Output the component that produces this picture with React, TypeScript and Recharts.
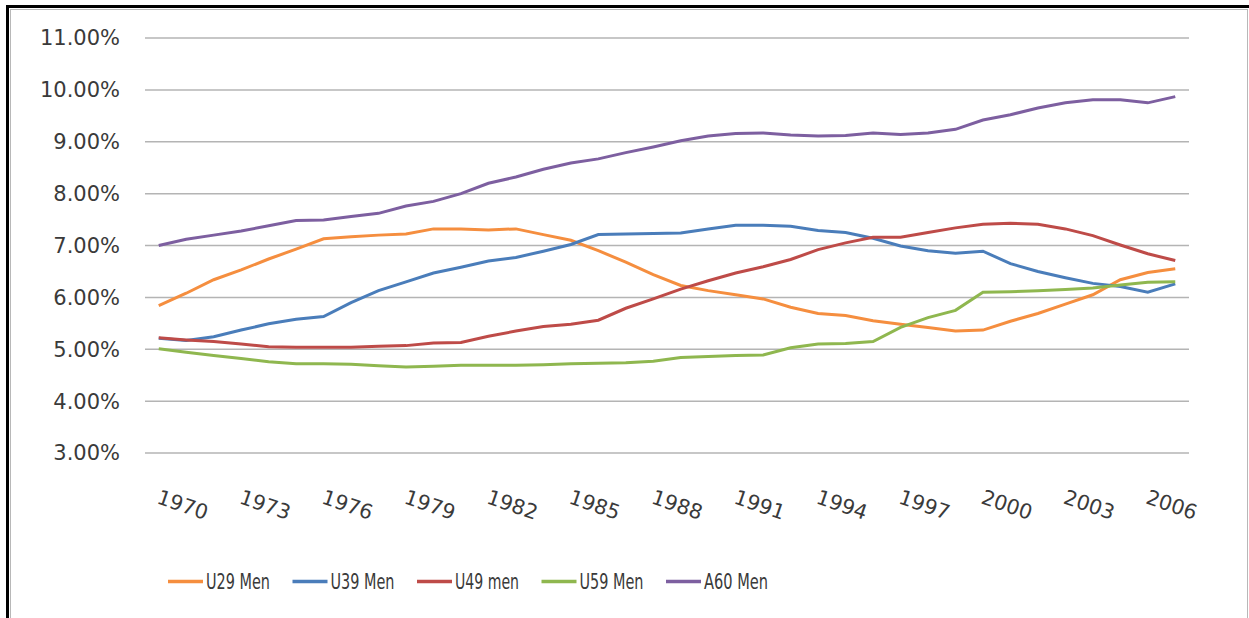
import React from 'react';
import { LineChart, Line, XAxis, YAxis, CartesianGrid } from 'recharts';

// Share of men by age group, 1970 - 2007 (percent)
const years = [
  1970, 1971, 1972, 1973, 1974, 1975, 1976, 1977, 1978, 1979,
  1980, 1981, 1982, 1983, 1984, 1985, 1986, 1987, 1988, 1989,
  1990, 1991, 1992, 1993, 1994, 1995, 1996, 1997, 1998, 1999,
  2000, 2001, 2002, 2003, 2004, 2005, 2006, 2007,
];

const u29Men = [
  5.84, 6.08, 6.34, 6.53, 6.74, 6.93, 7.13, 7.17, 7.2, 7.22,
  7.32, 7.32, 7.3, 7.32, 7.21, 7.1, 6.9, 6.68, 6.44, 6.23,
  6.13, 6.05, 5.97, 5.81, 5.69, 5.65, 5.55, 5.48, 5.42, 5.35,
  5.37, 5.54, 5.69, 5.87, 6.05, 6.34, 6.48, 6.55,
];

const u39Men = [
  5.21, 5.17, 5.24, 5.37, 5.49, 5.58, 5.63, 5.9, 6.13, 6.3,
  6.47, 6.58, 6.7, 6.77, 6.89, 7.02, 7.21, 7.22, 7.23, 7.24,
  7.32, 7.39, 7.39, 7.37, 7.29, 7.25, 7.14, 6.99, 6.9, 6.85,
  6.89, 6.65, 6.5, 6.38, 6.27, 6.21, 6.1, 6.26,
];

const u49Men = [
  5.22, 5.18, 5.15, 5.1, 5.05, 5.04, 5.04, 5.04, 5.06, 5.07,
  5.12, 5.13, 5.25, 5.35, 5.44, 5.48, 5.56, 5.79, 5.97, 6.16,
  6.32, 6.47, 6.59, 6.73, 6.92, 7.05, 7.16, 7.16, 7.25, 7.34,
  7.41, 7.43, 7.41, 7.32, 7.19, 7.01, 6.84, 6.71,
];

const u59Men = [
  5.01, 4.94, 4.88, 4.82, 4.76, 4.72, 4.72, 4.71, 4.68, 4.66,
  4.67, 4.69, 4.69, 4.69, 4.7, 4.72, 4.73, 4.74, 4.77, 4.84,
  4.86, 4.88, 4.89, 5.03, 5.1, 5.11, 5.15, 5.42, 5.61, 5.75,
  6.1, 6.11, 6.13, 6.15, 6.18, 6.24, 6.29, 6.3,
];

const a60Men = [
  7.0, 7.12, 7.2, 7.28, 7.38, 7.48, 7.49, 7.56, 7.62, 7.76,
  7.85, 8.0, 8.2, 8.32, 8.47, 8.59, 8.67, 8.79, 8.9, 9.02,
  9.11, 9.16, 9.17, 9.13, 9.11, 9.12, 9.17, 9.14, 9.17, 9.24,
  9.42, 9.52, 9.65, 9.75, 9.81, 9.81, 9.75, 9.87,
];

const yTicks = [3, 4, 5, 6, 7, 8, 9, 10, 11];
const xTicks = [1970, 1973, 1976, 1979, 1982, 1985, 1988, 1991, 1994, 1997, 2000, 2003, 2006];

const series = [
  { key: 'u29', name: 'U29 Men', color: '#F58E3F' },
  { key: 'u39', name: 'U39 Men', color: '#4A7DBA' },
  { key: 'u49', name: 'U49 men', color: '#BE4B48' },
  { key: 'u59', name: 'U59 Men', color: '#8FB74F' },
  { key: 'a60', name: 'A60 Men', color: '#7D5FA0' },
];

const data = years.map((year, i) => ({
  year,
  u29: u29Men[i],
  u39: u39Men[i],
  u49: u49Men[i],
  u59: u59Men[i],
  a60: a60Men[i],
}));

const FONT = '"DejaVu Sans", Verdana, sans-serif';
const TEXT = '#3a3a3a';

const YearTick = ({ x, y, payload }: any) => (
  <g transform={`translate(${x - 3},${y + 50}) rotate(19)`}>
    <text x={0} y={0} textAnchor="start" fill={TEXT} fontSize={20.5} fontFamily={FONT}>
      {payload.value}
    </text>
  </g>
);

// legend drawn by hand so the order stays as in the original
const ChartLegend = () => (
  <svg width={1249} height={40} style={{ position: 'absolute', left: 0, top: 561 }}>
    {series.map((s, index) => {
      const x0 = 168 + index * 124.5;
      return (
        <g key={`item-${index}`}>
          <line x1={x0} y1={20.5} x2={x0 + 35} y2={20.5} stroke={s.color} strokeWidth={3.5} />
          <text
            x={x0 + 38}
            y={28}
            fill={TEXT}
            fontSize={21.5}
            fontFamily={FONT}
            textLength={64}
            lengthAdjust="spacingAndGlyphs"
          >
            {s.name}
          </text>
        </g>
      );
    })}
  </svg>
);

export default function App() {
  return (
    <div style={{ position: 'absolute', left: 0, top: 0, width: 1249, height: 618, background: '#fff', overflow: 'hidden' }}>
      <div
        style={{
          position: 'absolute', left: 6, top: 5, width: 1270, height: 640,
          borderTop: '3px solid #000', borderLeft: '3px solid #000',
        }}
      />
      <div
        style={{
          position: 'absolute', left: 10, top: 9, width: 1236, height: 640,
          border: '1px solid #b8b8b8',
        }}
      />
      <div style={{ position: 'absolute', left: 0, top: 0 }}>
        <LineChart width={1249} height={618} data={data} margin={{ top: 38, right: 60, left: 0, bottom: 65 }}>
          <CartesianGrid vertical={false} stroke="#b4b4b4" strokeWidth={1.5} />
          <XAxis
            type="number"
            dataKey="year"
            domain={[1969.5, 2007.5]}
            ticks={xTicks}
            interval={0}
            axisLine={false}
            tickLine={false}
            tickSize={0}
            tickMargin={0}
            height={100}
            tick={<YearTick />}
          />
          <YAxis
            domain={[3, 11]}
            ticks={yTicks}
            interval={0}
            width={145}
            axisLine={false}
            tickLine={false}
            tickSize={0}
            tickMargin={25}
            tickFormatter={(v: number) => `${v.toFixed(2)}%`}
            tick={{ fill: TEXT, fontSize: 21, fontFamily: FONT }}
          />
          {series.map((s) => (
            <Line
              key={s.key}
              type="linear"
              dataKey={s.key}
              name={s.name}
              stroke={s.color}
              strokeWidth={3}
              dot={false}
              isAnimationActive={false}
            />
          ))}
        </LineChart>
      </div>
      <ChartLegend />
    </div>
  );
}
